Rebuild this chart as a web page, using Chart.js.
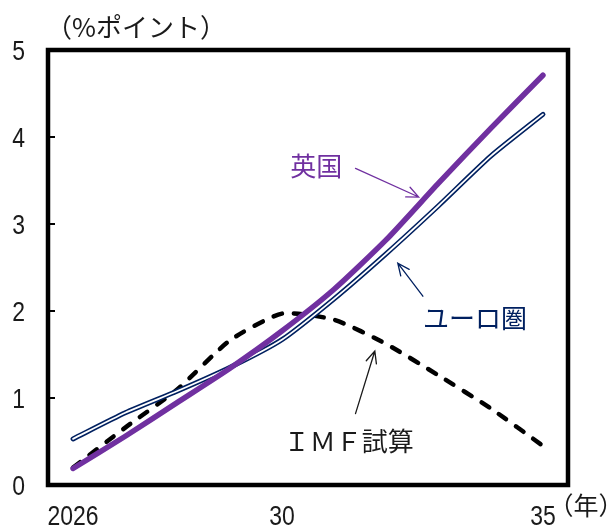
<!DOCTYPE html>
<html>
<head>
<meta charset="utf-8">
<script src="https://cdn.jsdelivr.net/npm/chart.js@4.4.1/dist/chart.umd.min.js"></script>
<style>
  html, body { margin: 0; padding: 0; background: #ffffff; }
  #wrap { width: 614px; height: 527px; }
</style>
</head>
<body>
<div id="wrap"><canvas id="c" width="614" height="527"></canvas></div>
<script>
// Years on the horizontal axis
const years = [2026, 2027, 2028, 2029, 2030, 2031, 2032, 2033, 2034, 2035];
// Labelled ticks and their text
const tickYears = [2026, 2030, 2035];
const tickLabels = ['2026', '30', '35'];
const yTickValues = [0, 1, 2, 3, 4, 5];

// Series (% points)
const ukValues   = [0.19, 0.56, 0.95, 1.34, 1.77, 2.25, 2.82, 3.47, 4.10, 4.71];
const euroValues = [0.53, 0.83, 1.08, 1.35, 1.67, 2.14, 2.66, 3.21, 3.78, 4.26];
const imfValues  = [0.20, 0.66, 1.10, 1.66, 1.97, 1.90, 1.62, 1.26, 0.88, 0.45];

// Callout labels: text, colour, text anchor and arrow (start -> tip) in data units
const callouts = [
  { text: '英国', color: '#7030A0', at: [2030.66, 3.67], from: [2031.41, 3.64], to: [2032.62, 3.31] },
  { text: 'ユーロ圏', color: '#002060', at: [2033.70, 1.92], from: [2032.70, 2.17], to: [2032.22, 2.55] },
  { text: 'ＩＭＦ試算', color: '#1a1a1a', at: [2031.28, 0.51], from: [2031.41, 0.82], to: [2031.78, 1.54] }
];

const pts = vals => vals.map((v, i) => ({ x: years[i], y: v }));

const numFamily = "'Liberation Sans', Arial, sans-serif";
const cjkFont = "'Noto Sans CJK JP', 'Noto Sans', sans-serif";

// Condensed numerals, drawn at the scale's own tick positions
function narrowText(ctx, text, x, y, align) {
  const sx = 0.82;
  ctx.save();
  ctx.translate(x, y);
  ctx.scale(sx, 1);
  ctx.textAlign = align;
  ctx.textBaseline = 'alphabetic';
  ctx.fillText(text, 0, 0);
  ctx.restore();
}

const framePlugin = {
  id: 'frame',
  afterDraw(chart) {
    const { ctx, chartArea: a, scales } = chart;
    const xs = scales.x, ys = scales.y;
    ctx.save();
    // plot box
    ctx.strokeStyle = '#000';
    ctx.lineWidth = 4.5;
    ctx.lineJoin = 'miter';
    ctx.strokeRect(a.left, a.top, a.right - a.left, a.bottom - a.top);
    // inward tick marks on the value axis
    ctx.lineWidth = 2;
    yTickValues.forEach(v => {
      const py = ys.getPixelForValue(v);
      ctx.beginPath();
      ctx.moveTo(a.left, py);
      ctx.lineTo(a.left + 7, py);
      ctx.stroke();
    });
    // tick labels
    ctx.fillStyle = '#1a1a1a';
    ctx.font = '28px ' + numFamily;
    yTickValues.forEach(v => {
      narrowText(ctx, String(v), a.left - 23, ys.getPixelForValue(v) + 10, 'right');
    });
    tickYears.forEach((v, i) => {
      narrowText(ctx, tickLabels[i], xs.getPixelForValue(v), a.bottom + 40, 'center');
    });
    // unit captions
    ctx.font = '26px ' + cjkFont;
    ctx.textBaseline = 'middle';
    ctx.textAlign = 'center';
    ctx.fillText('（%ポイント）', 136, 27);
    ctx.font = '25px ' + cjkFont;
    ctx.fillText('（年）', 586, 505);
    // callouts
    callouts.forEach(c => {
      const tx = xs.getPixelForValue(c.at[0]), ty = ys.getPixelForValue(c.at[1]);
      ctx.fillStyle = c.color;
      ctx.font = '26px ' + cjkFont;
      ctx.textAlign = 'center';
      ctx.textBaseline = 'middle';
      ctx.fillText(c.text, tx, ty);
      const x0 = xs.getPixelForValue(c.from[0]), y0 = ys.getPixelForValue(c.from[1]);
      const x1 = xs.getPixelForValue(c.to[0]), y1 = ys.getPixelForValue(c.to[1]);
      ctx.strokeStyle = c.color;
      ctx.lineWidth = 1.3;
      ctx.lineCap = 'round';
      ctx.beginPath();
      ctx.moveTo(x0, y0);
      ctx.lineTo(x1, y1);
      const ang = Math.atan2(y1 - y0, x1 - x0);
      const len = 13, spread = 0.42;
      ctx.moveTo(x1 - len * Math.cos(ang - spread), y1 - len * Math.sin(ang - spread));
      ctx.lineTo(x1, y1);
      ctx.lineTo(x1 - len * Math.cos(ang + spread), y1 - len * Math.sin(ang + spread));
      ctx.stroke();
    });
    ctx.restore();
  }
};

new Chart(document.getElementById('c'), {
  type: 'line',
  data: {
    datasets: [
      { label: '英国', data: pts(ukValues), borderColor: '#7030A0', borderWidth: 5.5 },
      { label: 'ユーロ圏 (内側)', data: pts(euroValues), borderColor: '#ffffff', borderWidth: 1.8 },
      { label: 'ユーロ圏', data: pts(euroValues), borderColor: '#002060', borderWidth: 5 },
      { label: 'IMF試算', data: pts(imfValues), borderColor: '#000000', borderWidth: 4.5, borderDash: [9, 12] }
    ].map(d => Object.assign({
      pointRadius: 0, pointHoverRadius: 0, fill: false, tension: 0.2,
      borderCapStyle: 'round', borderJoinStyle: 'round'
    }, d))
  },
  options: {
    responsive: false,
    animation: false,
    devicePixelRatio: 1,
    events: [],
    layout: { padding: { top: 50, right: 46, left: 0, bottom: 0 } },
    plugins: { legend: { display: false }, tooltip: { enabled: false } },
    scales: {
      x: {
        type: 'linear', min: 2025.52, max: 2035.48,
        afterBuildTicks: s => { s.ticks = tickYears.map(v => ({ value: v })); },
        afterFit: s => { s.height = 42; },
        grid: { display: false, drawTicks: false },
        border: { display: false },
        ticks: { display: false }
      },
      y: {
        min: 0, max: 5,
        afterBuildTicks: s => { s.ticks = yTickValues.map(v => ({ value: v })); },
        afterFit: s => { s.width = 48; },
        grid: { display: false, drawTicks: false },
        border: { display: false },
        ticks: { display: false }
      }
    }
  },
  plugins: [framePlugin]
});
</script>
</body>
</html>
